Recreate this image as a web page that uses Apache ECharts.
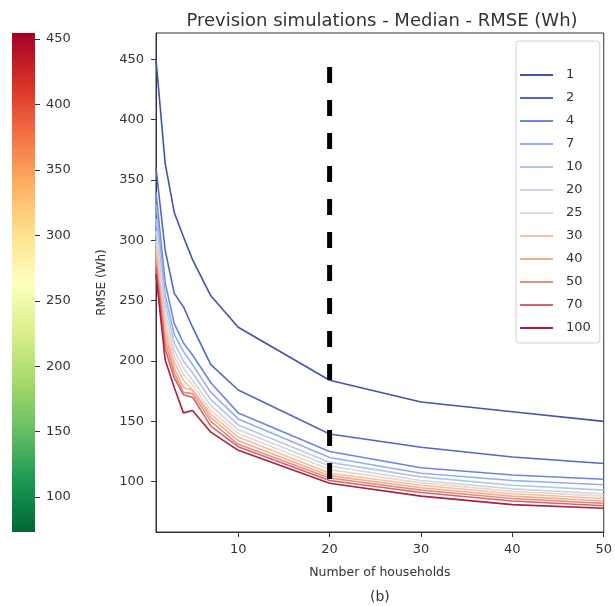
<!DOCTYPE html>
<html>
<head>
<meta charset="utf-8">
<script src="https://cdn.jsdelivr.net/npm/echarts@6/dist/echarts.min.js"></script>
<style>
html,body{margin:0;padding:0;background:#fff;}
#chart{width:615px;height:606px;}
</style>
</head>
<body>
<div id="chart"></div>
<script>
// ---- Data ----
const households = [1, 2, 3, 4, 5, 7, 10, 20, 30, 40, 50];
const hLabels = ['1', '2', '4', '7', '10', '20', '25', '30', '40', '50', '70', '100'];
const rmse_h1   = [450, 364, 323, 303, 284, 254, 228, 184, 166, 158, 150];
const rmse_h2   = [360, 292, 256, 245, 228, 197, 176, 139.5, 128.5, 120.5, 115];
const rmse_h4   = [340, 265, 231, 215, 205, 182, 157, 125, 111.5, 105.5, 102];
const rmse_h7   = [330, 255, 222, 208, 197, 174, 152, 120, 107, 101, 97.5];
const rmse_h10  = [318, 248, 215, 200, 190, 168, 147, 116, 104, 97, 93];
const rmse_h20  = [308, 240, 209, 194, 184, 163, 143, 113, 101, 94, 90];
const rmse_h25  = [300, 234, 204, 189, 180, 159, 140, 110, 99, 92, 88];
const rmse_h30  = [294, 228, 199, 184, 176, 156, 137, 107, 97, 90, 86];
const rmse_h40  = [288, 222, 194, 178, 176, 153, 134, 105, 95, 88, 84];
const rmse_h50  = [282, 216, 190, 174, 173, 150, 131, 103, 93, 86, 82];
const rmse_h70  = [278, 210, 186, 172, 170, 146, 129, 101, 91, 84, 80];
const rmse_h100 = [272, 201, 178, 157, 159, 141, 126, 98.7, 88, 81, 78];
const allSeries = [rmse_h1, rmse_h2, rmse_h4, rmse_h7, rmse_h10, rmse_h20, rmse_h25, rmse_h30, rmse_h40, rmse_h50, rmse_h70, rmse_h100];
const refLineX = [20, 20];
const refLineY = [443.6, 71.6];
const yTicks = [100, 150, 200, 250, 300, 350, 400, 450];
const xTicks = [10, 20, 30, 40, 50];
const cbarTicks = [100, 150, 200, 250, 300, 350, 400, 450];
const cbarMin = 73.3;
const cbarMax = 454.6;

// ---- Styles ----
const lineColors = ['#4452ad', '#5266c8', '#6a86e0', '#8eb0f0', '#b4c6e8', '#d0d4e4',
                    '#e6d9d0', '#f2bfa6', '#f4ad8e', '#e2907e', '#d4646a', '#b41c3c'];
const FONT = 'DejaVu Sans';
const TXT = '#333';

const chart = echarts.init(document.getElementById('chart'), null, {renderer: 'canvas'});

const lineSeries = allSeries.map((vals, i) => ({
  name: hLabels[i],
  type: 'line',
  xAxisIndex: 0, yAxisIndex: 0,
  symbol: 'none',
  data: households.map((x, j) => [x, vals[j]]),
  lineStyle: {color: lineColors[i], width: 1.6},
  itemStyle: {color: lineColors[i]},
  silent: true,
  animation: false
}));

const option = {
  animation: false,
  backgroundColor: '#fff',
  title: {
    text: 'Prevision simulations - Median - RMSE (Wh)',
    left: 377, top: 7, textAlign: 'center',
    textStyle: {fontFamily: FONT, fontSize: 18, fontWeight: 'normal', color: TXT}
  },
  graphic: [
    {type: 'text', left: 553, top: 45, style: {text: 'h', font: '13px "DejaVu Sans"', fill: TXT}},
    {type: 'text', left: 370, top: 590, style: {text: '(b)', font: '14px "DejaVu Sans"', fill: TXT}}
  ],
  legend: {
    data: hLabels,
    orient: 'vertical',
    left: 516, top: 41,
    padding: [27, 9, 8, 4],
    icon: 'rect',
    itemWidth: 33, itemHeight: 2, itemGap: 9,
    backgroundColor: '#fff',
    borderColor: '#d0d0d0', borderWidth: 1, borderRadius: 3,
    textStyle: {fontFamily: FONT, fontSize: 13, color: TXT, padding: [0, 0, 0, 8], height: 14, lineHeight: 14}
  },
  grid: [
    {left: 156, top: 33, width: 451, height: 499, show: true, borderColor: '#333', borderWidth: 1, containLabel: false},
    {left: 12, top: 33, width: 23, height: 499, show: false, containLabel: false}
  ],
  xAxis: [
    {
      type: 'value', gridIndex: 0, min: 1, max: 50,
      name: 'Number of households', nameLocation: 'middle', nameGap: 34,
      nameTextStyle: {fontFamily: FONT, fontSize: 12.5, color: TXT},
      axisLine: {show: true, lineStyle: {color: '#333', width: 1}},
      axisTick: {show: true, length: 5, inside: false, customValues: xTicks, lineStyle: {color: '#333'}},
      axisLabel: {show: true, customValues: xTicks, margin: 11, fontFamily: FONT, fontSize: 13, color: TXT},
      splitLine: {show: false}
    },
    {
      type: 'category', gridIndex: 1, data: [''], show: false
    }
  ],
  yAxis: [
    {
      type: 'value', gridIndex: 0, min: 58.3, max: 471.8,
      name: 'RMSE (Wh)', nameLocation: 'middle', nameGap: 48, nameRotate: 90,
      nameTextStyle: {fontFamily: FONT, fontSize: 12, color: TXT},
      axisLine: {show: true, lineStyle: {color: '#333', width: 1}},
      axisTick: {show: true, length: 5, inside: false, customValues: yTicks, lineStyle: {color: '#333'}},
      axisLabel: {show: true, customValues: yTicks, margin: 12, fontFamily: FONT, fontSize: 13, color: TXT},
      splitLine: {show: false}
    },
    {
      type: 'value', gridIndex: 1, min: cbarMin, max: cbarMax, position: 'right',
      axisLine: {show: false},
      axisTick: {show: true, length: 5, inside: false, customValues: cbarTicks, lineStyle: {color: '#333'}},
      axisLabel: {show: true, customValues: cbarTicks, margin: 11, fontFamily: FONT, fontSize: 13, color: TXT},
      splitLine: {show: false}
    }
  ],
  series: [
    ...lineSeries,
    {
      name: 'ref', type: 'line', xAxisIndex: 0, yAxisIndex: 0, symbol: 'none',
      data: refLineX.map((x, i) => [x, refLineY[i]]),
      lineStyle: {color: '#000', width: 5, type: [16, 17], cap: 'butt'},
      silent: true, z: 5
    },
    {
      name: 'cbase', type: 'bar', xAxisIndex: 1, yAxisIndex: 1, stack: 'cb',
      data: [cbarMin], barWidth: '100%', itemStyle: {color: 'rgba(0,0,0,0)'}, silent: true
    },
    {
      name: 'cbar', type: 'bar', xAxisIndex: 1, yAxisIndex: 1, stack: 'cb',
      data: [cbarMax - cbarMin], barWidth: '100%', silent: true,
      itemStyle: {
        color: new echarts.graphic.LinearGradient(0, 0, 0, 1, [
          {offset: 0.0, color: '#a50026'},
          {offset: 0.1, color: '#d73027'},
          {offset: 0.2, color: '#f46d43'},
          {offset: 0.3, color: '#fdae61'},
          {offset: 0.4, color: '#fee08b'},
          {offset: 0.5, color: '#ffffbf'},
          {offset: 0.6, color: '#d9ef8b'},
          {offset: 0.7, color: '#a6d96a'},
          {offset: 0.8, color: '#66bd63'},
          {offset: 0.9, color: '#1a9850'},
          {offset: 1.0, color: '#006837'}
        ])
      }
    }
  ]
};
chart.setOption(option);
</script>
</body>
</html>
